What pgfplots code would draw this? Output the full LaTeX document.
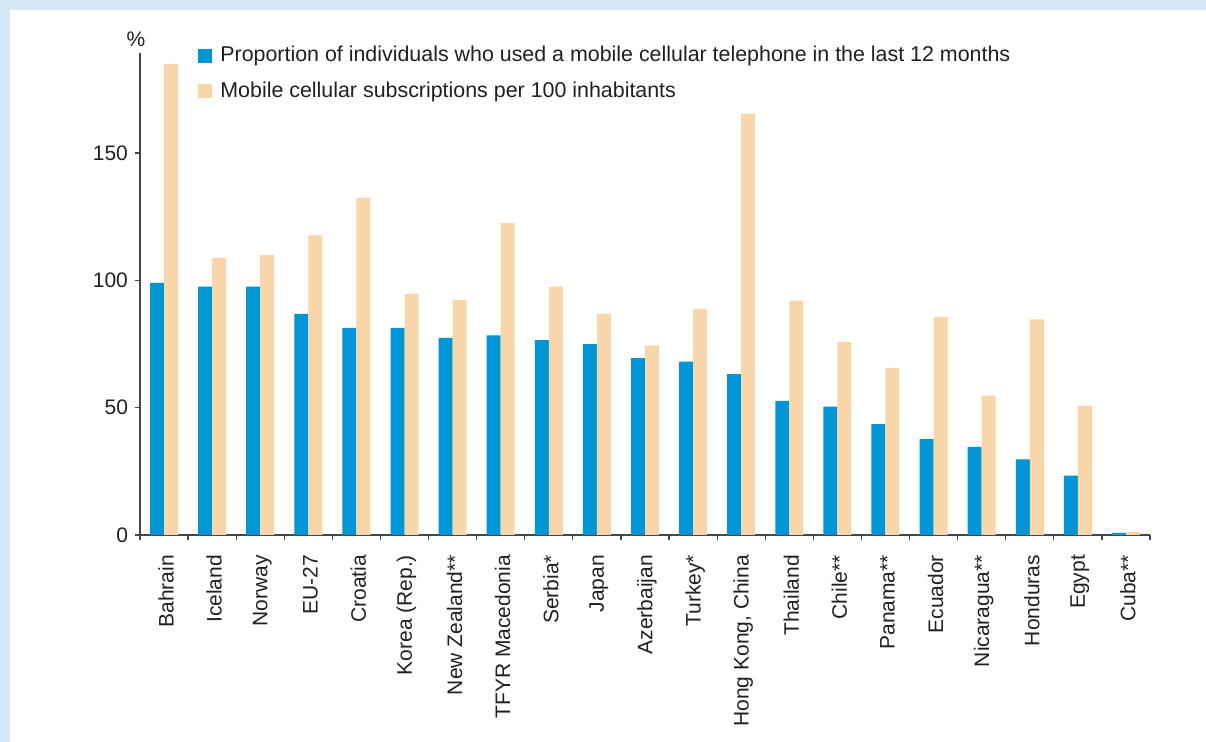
\documentclass[border=0pt]{standalone}
\usepackage{pgfplots}
\pgfplotsset{compat=1.18}
\usepackage{fontspec}
\setmainfont{Liberation Sans}
\definecolor{barblue}{RGB}{0,150,214}
\definecolor{barpeach}{RGB}{248,214,169}
\definecolor{framebg}{RGB}{213,232,246}
\definecolor{txt}{RGB}{35,31,32}
\definecolor{axgray}{RGB}{70,70,70}
\newcommand\f{\fontsize{10.5}{12.6}\selectfont}
\newcommand\fl{\fontsize{10.7}{12.8}\selectfont}
\begin{document}
\begin{tikzpicture}[x=1pt,y=1pt]
\path[use as bounding box] (0,0) rectangle (603,371);
\fill[framebg] (0,0) rectangle (603,371);
\fill[white] (5,0) rectangle (603,366);
\begin{axis}[
  at={(70pt,103.5pt)}, anchor=south west,
  scale only axis, width=505pt, height=241pt,
  xmin=-0.5, xmax=20.5, ymin=0, ymax=189.3,
  axis lines=left,
  axis line style={-, axgray, line width=0.7pt},
  ybar=0pt, bar width=7pt,
  xtick={0,...,20},
  xticklabels={Bahrain,Iceland,Norway,EU-27,Croatia,Korea (Rep.),New Zealand**,TFYR Macedonia,Serbia*,Japan,Azerbaijan,Turkey*,{Hong Kong, China},Thailand,Chile**,Panama**,Ecuador,Nicaragua**,Honduras,Egypt,Cuba**},
  major x tick style={draw=none},
  minor xtick={-0.5,0.5,...,20.5},
  ytick={0,50,100,150},
  tick align=outside, major tick length=2.5pt, minor tick length=2.5pt,
  tick style={axgray, line width=0.6pt},
  xticklabel style={xshift=1pt, yshift=-4pt, rotate=90, anchor=east, font=\f, text=txt},
  yticklabel style={font=\f, text=txt},
  /pgf/number format/assume math mode=true,
  clip=false,
  legend style={at={(rel axis cs:0,1)}, anchor=north west, xshift=29pt, yshift=5.5pt,
    draw=none, fill=none, inner sep=0pt, row sep=4.5pt, column sep=2pt, font=\fl, text=txt,
    nodes={inner sep=2pt}},
  legend cell align=left,
  legend image code/.code={\fill[#1] (0pt,-3.5pt) rectangle (7pt,3.5pt);},
]
\addplot[fill=barblue, draw=none] coordinates {
(0,99.0) (1,97.5) (2,97.5) (3,86.8) (4,81.3) (5,81.3) (6,77.4) (7,78.4) (8,76.5) (9,75.0) (10,69.5)
(11,68.1) (12,63.2) (13,52.7) (14,50.4) (15,43.5) (16,37.6) (17,34.6) (18,29.7) (19,23.3) (20,0.8)};
\addlegendentry{Proportion of individuals who used a mobile cellular telephone in the last 12 months}
\addplot[fill=barpeach, draw=none] coordinates {
(0,185.0) (1,108.8) (2,109.9) (3,117.7) (4,132.4) (5,94.7) (6,92.2) (7,122.5) (8,97.5) (9,86.8) (10,74.5)
(11,88.8) (12,165.4) (13,92.0) (14,75.8) (15,65.6) (16,85.6) (17,54.7) (18,84.7) (19,50.8) (20,1.2)};
\addlegendentry{Mobile cellular subscriptions per 100 inhabitants}
\node[anchor=south, font=\f, text=txt] at (rel axis cs:0,1) [xshift=-2pt, yshift=-0.5pt] {\%};
\end{axis}
\end{tikzpicture}
\end{document}
